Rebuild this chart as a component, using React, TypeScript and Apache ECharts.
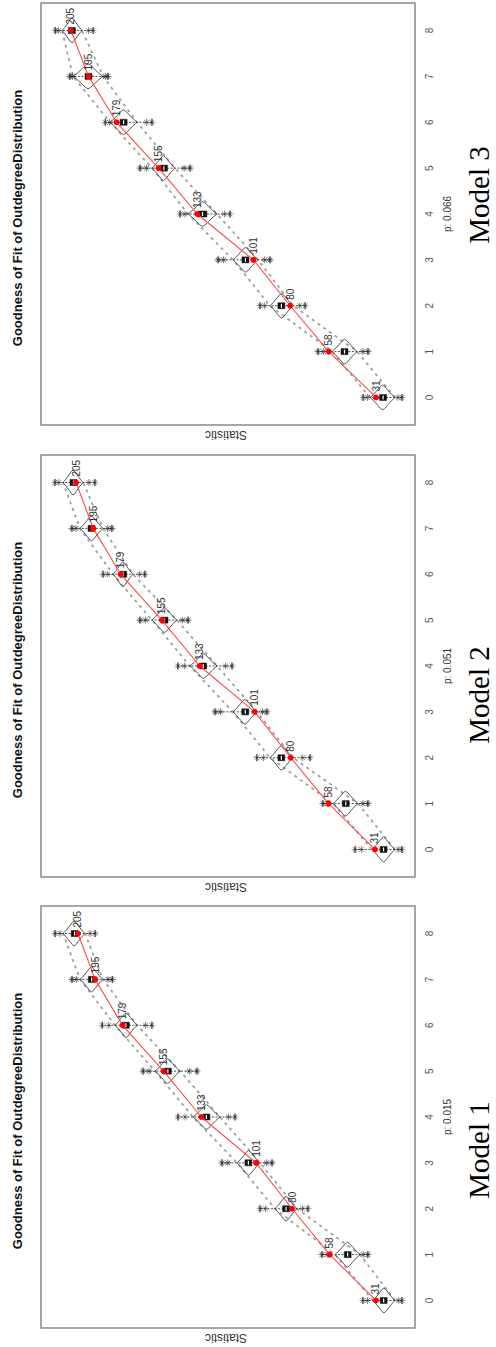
import React, { useEffect, useRef } from 'react';
import * as echarts from 'echarts';

const categories = [0, 1, 2, 3, 4, 5, 6, 7, 8];
const observed = [31, 58, 80, 101, 133, 155, 179, 195, 205];
const titleText = 'Goodness of Fit of OutdegreeDistribution';
const axisTitle = 'Statistic';
const modelNames = ['Model 3', 'Model 2', 'Model 1'];
const pValues = ['p: 0.066', 'p: 0.051', 'p: 0.015'];

// Model 3 simulated distribution summaries
const m3VMin = [20.2, 41.8, 78.3, 98.3, 121.7, 145.7, 167.3, 186.7, 198.7];
const m3VMax = [34.4, 56.1, 91.5, 112.6, 138.2, 158.8, 182.7, 203.8, 210.1];
const m3BoxLo = [25, 47, 83, 103.5, 127.5, 150, 173, 193, 202.5];
const m3BoxHi = [29, 51, 87, 107.5, 132.5, 154, 177, 197, 206.5];
const m3AstLoOut = [16.2, 35.6, 71.5, 91.5, 114.3, 137.1, 158.8, 183.9, 192.4];
const m3AstLoIn = [18.5, 38.5, 74.5, 94.5, 117.5, 140.5, 162, 185.5, 195];
const m3AstHiIn = [36, 61, 94.5, 118, 140, 162, 183, 204, 212];
const m3AstHiOut = [38.4, 64.1, 97.2, 121.1, 142.8, 165.6, 185.5, 205.6, 214];

// Model 2
const m2VMin = [19.4, 40.9, 78.7, 99.7, 122.9, 146.3, 171.9, 189.3, 200.9];
const m2VMax = [32.7, 55.4, 92.1, 113.7, 138.7, 160.8, 183.5, 202.7, 212.6];
const m2BoxLo = [24, 46, 83.5, 104.5, 129, 151.5, 175.5, 194, 204.5];
const m2BoxHi = [28, 50, 87.5, 108.5, 133, 155.5, 179.5, 198, 208.5];
const m2AstLoOut = [15.3, 35.1, 68.8, 93.9, 114.2, 139.8, 164.9, 184.1, 194];
const m2AstLoIn = [17.5, 38, 73, 96.5, 118, 143, 168, 186.5, 197.5];
const m2AstHiIn = [39, 58.5, 96, 121, 142, 164.5, 186.5, 205, 215];
const m2AstHiOut = [42.6, 61.3, 99.7, 124.1, 145.7, 167.8, 189.3, 207.4, 217.3];

// Model 1
const m1VMin = [19.9, 40.3, 77.1, 98.7, 122.1, 145.4, 170.5, 190.4, 200.9];
const m1VMax = [32.8, 54.9, 90, 112.1, 137.8, 160, 183.4, 203.8, 213.7];
const m1BoxLo = [24.5, 45.5, 81.5, 103.5, 128, 150.5, 175, 195, 205];
const m1BoxHi = [28.5, 49.5, 85.5, 107.5, 132, 154.5, 179, 199, 209];
const m1AstLoOut = [15.8, 35.7, 70.7, 91.7, 113.3, 135.5, 161.8, 185, 195];
const m1AstLoIn = [18, 38.5, 74, 95, 117, 140, 165.5, 187.5, 198];
const m1AstHiIn = [36, 59.5, 95.5, 117.5, 142.5, 163.5, 187, 206, 215.5];
const m1AstHiOut = [38.6, 62.5, 98.7, 120.9, 146.6, 167, 190.9, 208.5, 218.4];

const statRanges = [
  [8.8, 222.1],
  [7.7, 225.4],
  [8.2, 226.6],
];

const panels = [
  { vMin: m3VMin, vMax: m3VMax, boxLo: m3BoxLo, boxHi: m3BoxHi, aLo: m3AstLoOut, aLi: m3AstLoIn, aHi: m3AstHiIn, aHo: m3AstHiOut },
  { vMin: m2VMin, vMax: m2VMax, boxLo: m2BoxLo, boxHi: m2BoxHi, aLo: m2AstLoOut, aLi: m2AstLoIn, aHi: m2AstHiIn, aHo: m2AstHiOut },
  { vMin: m1VMin, vMax: m1VMax, boxLo: m1BoxLo, boxHi: m1BoxHi, aLo: m1AstLoOut, aLi: m1AstLoIn, aHi: m1AstHiIn, aHo: m1AstHiOut },
];

const GRID_TOPS = [3, 455, 906];
const GRID_H = 422;
const GRID_LEFT = 41;
const GRID_W = 374;
const MODEL_Y = [195, 695, 1150];

const ASTERISK =
  'path://M0 4.55L10 4.55L10 5.45L0 5.45Z M4.55 0L5.45 0L5.45 10L4.55 10Z M1.3 1.9L1.9 1.3L8.7 8.1L8.1 8.7Z M8.1 1.3L8.7 1.9L1.9 8.7L1.3 8.1Z';

function renderViolin(params: any, api: any) {
  const cat = api.value(0);
  const vmin = api.value(1);
  const vmax = api.value(2);
  const q1 = api.value(3);
  const q3 = api.value(4);
  const wlo = api.value(5);
  const whi = api.value(6);
  const pA = api.coord([vmin, cat]);
  const pB = api.coord([vmax, cat]);
  const y = pA[1];
  const h = api.size([0, 1])[1] * 0.27;
  const x1 = pA[0];
  const x2 = pB[0];
  const L = (t: number) => x1 + (x2 - x1) * t;
  const prof: [number, number][] = [
    [0.15, 0.28],
    [0.3, 0.62],
    [0.42, 0.9],
    [0.5, 1],
    [0.58, 0.9],
    [0.7, 0.62],
    [0.85, 0.28],
  ];
  const pts: number[][] = [[x1, y]];
  prof.forEach(([t, f]) => pts.push([L(t), y - f * h]));
  pts.push([x2, y]);
  prof
    .slice()
    .reverse()
    .forEach(([t, f]) => pts.push([L(t), y + f * h]));
  const b1 = api.coord([q1, cat]);
  const b2 = api.coord([q3, cat]);
  const w1 = api.coord([wlo, cat]);
  const w2 = api.coord([whi, cat]);
  const bx = Math.min(b1[0], b2[0]);
  const bw = Math.abs(b1[0] - b2[0]);
  const mid = (b1[0] + b2[0]) / 2;
  return {
    type: 'group',
    children: [
      {
        type: 'line',
        shape: { x1: w1[0], y1: y, x2: w2[0], y2: y },
        style: { stroke: '#222', lineWidth: 0.8, lineDash: [2, 1.5] },
      },
      { type: 'line', shape: { x1: w1[0], y1: y - 3.5, x2: w1[0], y2: y + 3.5 }, style: { stroke: '#222', lineWidth: 0.9 } },
      { type: 'line', shape: { x1: w2[0], y1: y - 3.5, x2: w2[0], y2: y + 3.5 }, style: { stroke: '#222', lineWidth: 0.9 } },
      {
        type: 'polygon',
        shape: { points: pts },
        style: { fill: 'none', stroke: '#444', lineWidth: 0.9 },
      },
      {
        type: 'rect',
        shape: { x: bx, y: y - 3, width: bw, height: 6 },
        style: { fill: '#111', stroke: '#111', lineWidth: 0.5 },
      },
      {
        type: 'rect',
        shape: { x: mid - 0.6, y: y - 2, width: 1.2, height: 4 },
        style: { fill: '#fff' },
      },
    ],
  };
}

export default function App() {
  const ref = useRef<HTMLDivElement>(null);
  useEffect(() => {
    if (!ref.current) return;
    const chart = echarts.init(ref.current, undefined, { renderer: 'svg' });
    const grid: any[] = [];
    const xAxis: any[] = [];
    const yAxis: any[] = [];
    const series: any[] = [];
    const graphic: any[] = [];

    panels.forEach((p, k) => {
      grid.push({
        left: GRID_LEFT,
        top: GRID_TOPS[k],
        width: GRID_W,
        height: GRID_H,
        show: true,
        borderColor: '#8a8a8a',
        borderWidth: 1.5,
        backgroundColor: '#fff',
      });
      xAxis.push({
        type: 'value',
        gridIndex: k,
        inverse: true,
        min: statRanges[k][0],
        max: statRanges[k][1],
        axisLine: { show: false },
        axisTick: { show: false },
        axisLabel: { show: false },
        splitLine: { show: false },
      });
      yAxis.push({
        type: 'value',
        gridIndex: k,
        position: 'right',
        min: -0.6,
        max: 8.6,
        axisLine: { show: false },
        axisTick: { show: false },
        splitLine: { show: false },
        axisLabel: {
          customValues: categories,
          rotate: 90,
          margin: 9,
          fontSize: 10,
          color: '#555',
          fontFamily: 'Liberation Sans, Arial, sans-serif',
        },
      });
      const bandLow = categories.map((c, i) => [p.vMin[i], c]);
      const bandHigh = categories.map((c, i) => [p.vMax[i], c]);
      [bandLow, bandHigh].forEach((d) =>
        series.push({
          type: 'line',
          xAxisIndex: k,
          yAxisIndex: k,
          data: d,
          symbol: 'none',
          z: 1,
          lineStyle: { color: '#a0a0a0', width: 1.8, type: [3, 4] },
        })
      );
      series.push({
        type: 'custom',
        xAxisIndex: k,
        yAxisIndex: k,
        z: 2,
        renderItem: renderViolin,
        encode: { x: [1, 2, 3, 4, 5, 6], y: 0 },
        data: categories.map((c, i) => [c, p.vMin[i], p.vMax[i], p.boxLo[i], p.boxHi[i], p.aLo[i], p.aHo[i]]),
      });
      const ast: number[][] = [];
      categories.forEach((c, i) => {
        ast.push([p.aLo[i], c], [p.aLi[i], c], [p.aHi[i], c], [p.aHo[i], c]);
      });
      series.push({
        type: 'scatter',
        xAxisIndex: k,
        yAxisIndex: k,
        z: 3,
        symbol: ASTERISK,
        symbolSize: 7,
        itemStyle: { color: '#222' },
        data: ast,
      });
      series.push({
        type: 'line',
        xAxisIndex: k,
        yAxisIndex: k,
        z: 5,
        data: categories.map((c, i) => [observed[i], c]),
        symbol: 'circle',
        symbolSize: 6,
        itemStyle: { color: '#ff0000' },
        lineStyle: { color: '#ff4a4a', width: 1.1 },
        label: {
          show: true,
          position: 'top',
          distance: 3,
          rotate: 90,
          align: 'left',
          verticalAlign: 'middle',
          fontSize: 10,
          color: '#333',
          fontFamily: 'Liberation Sans, Arial, sans-serif',
          formatter: (q: any) => String(q.value[0]),
        },
      });

      const top = GRID_TOPS[k];
      const cy = top + GRID_H / 2;
      graphic.push(
        {
          type: 'text',
          x: 17,
          y: cy + 4,
          rotation: Math.PI / 2,
          style: {
            text: titleText,
            fontFamily: 'Liberation Sans, Arial, sans-serif',
            fontWeight: 'bold',
            fontSize: 13,
            fill: '#111',
            align: 'center',
            verticalAlign: 'middle',
          },
        },
        {
          type: 'text',
          x: GRID_LEFT + GRID_W / 2 - 2,
          y: top + GRID_H + 10,
          rotation: Math.PI,
          style: {
            text: axisTitle,
            fontFamily: 'Liberation Sans, Arial, sans-serif',
            fontSize: 12,
            fill: '#333',
            align: 'center',
            verticalAlign: 'middle',
          },
        },
        {
          type: 'text',
          x: 447,
          y: cy,
          rotation: Math.PI / 2,
          style: {
            text: pValues[k],
            fontFamily: 'Liberation Sans, Arial, sans-serif',
            fontSize: 10,
            fill: '#333',
            align: 'center',
            verticalAlign: 'middle',
          },
        },
        {
          type: 'text',
          x: 479,
          y: MODEL_Y[k],
          rotation: Math.PI / 2,
          style: {
            text: modelNames[k],
            fontFamily: 'Liberation Serif, Times New Roman, serif',
            fontSize: 29,
            fill: '#000',
            align: 'center',
            verticalAlign: 'middle',
          },
        }
      );
    });

    chart.setOption({
      animation: false,
      backgroundColor: '#fff',
      grid,
      xAxis,
      yAxis,
      series,
      graphic,
    });
    return () => chart.dispose();
  }, []);
  return (
    <div
      ref={ref}
      style={{ position: 'absolute', left: 0, top: 0, width: 496, height: 1347 }}
    />
  );
}
